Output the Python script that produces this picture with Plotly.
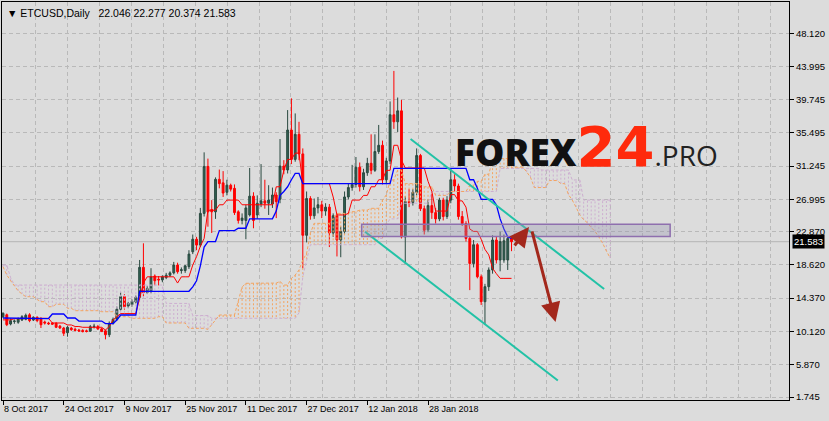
import pandas as pd
import plotly.graph_objects as go

# ---------------- data ----------------
start_date = "2017-10-08"
n_bars = 135
n_cloud = 161

open_ = [12.00, 12.25, 11.07, 11.40, 11.30, 11.58, 11.67, 12.25, 11.58, 11.93,
         11.75, 11.33, 11.20, 11.20, 11.16, 10.80, 10.56, 9.96, 10.55, 10.40,
         10.30, 10.25, 10.20, 10.15, 10.70, 10.75, 10.45, 10.20, 9.70, 11.16,
         11.67, 12.95, 14.56, 13.37, 13.54, 13.88, 14.48, 18.31, 15.10, 15.20,
         17.20, 16.80, 16.70, 17.00, 17.30, 17.60, 18.60, 17.90, 17.90, 18.40,
         20.30, 21.90, 21.15, 25.20, 31.20, 25.70, 25.40, 29.55, 29.10, 27.90,
         28.80, 28.40, 25.40, 24.30, 24.30, 25.00, 27.40, 25.00, 26.40, 26.80,
         26.50, 26.40, 27.55, 27.00, 31.25, 30.75, 35.85, 32.10, 35.30, 32.80,
         22.40, 27.10, 24.90, 25.90, 26.30, 25.50, 26.00, 22.70, 24.90, 21.80,
         22.90, 27.30, 28.50, 28.90, 31.10, 28.60, 30.40, 31.60, 30.70, 33.10,
         33.90, 29.50, 31.90, 37.80, 36.90, 38.30, 22.20, 26.70, 26.60, 27.90,
         32.60, 25.80, 23.10, 26.20, 25.30, 24.50, 26.90, 24.80, 26.90, 29.50,
         28.70, 24.80, 23.90, 22.00, 18.80, 21.20, 17.10, 13.92, 15.84, 17.97,
         21.80, 19.25, 19.25, 19.25, 22.046]
high = [12.55, 12.40, 11.80, 11.65, 11.90, 12.20, 12.40, 12.45, 12.05, 12.05,
        11.95, 11.50, 11.35, 11.30, 11.30, 10.95, 10.70, 10.80, 10.70, 10.60,
        10.45, 10.40, 10.35, 10.95, 11.10, 10.95, 10.60, 10.35, 11.40, 11.90,
        13.30, 15.10, 14.90, 13.90, 14.20, 14.70, 19.25, 21.38, 15.90, 18.20,
        17.40, 17.20, 17.30, 17.60, 17.80, 19.00, 18.90, 18.30, 18.60, 20.50,
        22.50, 22.20, 25.90, 33.00, 32.20, 26.90, 29.80, 30.80, 30.60, 29.50,
        29.00, 28.90, 25.60, 25.20, 26.30, 31.00, 27.90, 27.50, 31.50, 29.50,
        28.80, 28.50, 27.90, 34.70, 32.00, 38.40, 39.90, 37.97, 36.90, 33.50,
        28.00, 27.40, 27.10, 27.30, 26.80, 26.50, 26.40, 25.20, 25.20, 23.50,
        28.00, 29.00, 31.40, 32.40, 31.70, 30.90, 32.30, 35.30, 35.30, 36.50,
        34.50, 32.30, 39.50, 43.40, 40.00, 39.70, 27.40, 28.30, 28.30, 33.50,
        32.80, 26.20, 27.00, 27.70, 25.90, 27.20, 27.20, 27.40, 31.00, 30.20,
        29.00, 25.50, 24.20, 22.30, 21.80, 21.40, 17.40, 16.20, 18.30, 22.40,
        22.30, 22.86, 22.50, 22.30, 22.277]
low = [11.85, 10.80, 10.90, 11.10, 11.10, 11.45, 11.55, 11.30, 11.45, 11.30,
       10.56, 11.00, 10.95, 10.95, 10.55, 10.45, 9.54, 9.45, 10.20, 10.15,
       10.05, 10.00, 10.00, 10.05, 10.50, 10.35, 10.05, 9.11, 9.40, 11.00,
       11.50, 12.80, 12.90, 13.10, 13.30, 13.70, 14.20, 14.60, 14.90, 15.00,
       16.00, 16.00, 16.40, 16.80, 17.10, 17.40, 17.50, 17.50, 17.60, 18.10,
       20.00, 20.50, 20.90, 24.80, 23.50, 22.70, 24.50, 28.40, 27.30, 27.50,
       28.00, 25.00, 23.90, 23.80, 21.90, 24.80, 23.30, 24.50, 26.00, 25.80,
       25.00, 25.90, 24.60, 26.50, 30.20, 30.30, 31.50, 31.80, 32.00, 18.20,
       21.50, 24.40, 24.50, 25.20, 24.60, 24.90, 20.90, 22.20, 19.70, 19.60,
       22.60, 27.00, 28.10, 28.50, 28.00, 28.20, 30.00, 30.20, 30.50, 32.80,
       28.90, 29.00, 31.50, 36.00, 35.60, 22.00, 18.70, 26.00, 26.20, 27.50,
       25.50, 22.50, 22.80, 24.50, 23.90, 24.20, 24.30, 24.50, 26.50, 28.00,
       24.40, 23.60, 21.60, 15.40, 18.30, 16.90, 13.50, 10.94, 15.30, 17.50,
       18.80, 17.80, 18.90, 17.97, 20.374]
close = [12.44, 10.98, 11.50, 11.45, 11.75, 12.00, 12.18, 11.50, 11.93, 11.50,
         10.98, 11.20, 11.10, 11.05, 10.65, 10.56, 9.88, 10.65, 10.35, 10.25,
         10.18, 10.10, 10.12, 10.73, 10.78, 10.42, 10.10, 9.70, 11.16, 11.67,
         12.95, 14.56, 13.28, 13.70, 13.97, 14.48, 18.31, 15.10, 15.60, 17.10,
         16.60, 16.70, 17.10, 17.30, 17.60, 18.60, 17.75, 18.00, 18.50, 20.00,
         21.90, 21.15, 25.20, 31.20, 25.40, 25.40, 29.55, 29.00, 27.80, 28.80,
         28.30, 25.30, 24.30, 24.60, 25.90, 27.40, 24.30, 26.50, 26.80, 26.50,
         26.90, 27.55, 26.70, 31.25, 30.75, 35.85, 32.10, 35.30, 32.80, 22.40,
         27.10, 24.90, 25.90, 26.30, 25.50, 26.00, 22.70, 24.90, 21.80, 22.90,
         27.30, 28.50, 28.90, 31.10, 28.60, 30.40, 31.60, 30.70, 33.10, 33.90,
         29.50, 31.90, 37.80, 36.90, 38.30, 22.20, 26.70, 26.60, 27.90, 32.60,
         25.80, 23.05, 26.20, 25.30, 24.50, 26.90, 24.80, 26.90, 29.50, 28.70,
         24.80, 23.90, 22.00, 18.80, 21.20, 17.10, 13.92, 15.84, 17.97, 21.80,
         19.25, 21.60, 21.70, 22.00, 21.583]

tenkan = ([11.6] * 3 + [11.75] * 6 + [11.8] * 4 + [11.2] * 4 + [10.95] * 2 +
          [10.75] * 2 + [10.65] * 6 + [10.3, 10.75, 11.6, 12.0] + [12.4] * 5 +
          [14.35, 16.3] + [17.1] * 8 + [16.3] + [17.1] * 3 +
          [18.6, 19.67, 21.0, 22.0] + [25.6] * 3 + [26.3] * 2 + [26.9] * 4 +
          [26.3] * 9 + [28.6, 28.6, 30.7] + [32.1] * 2 + [32.9] * 2 +
          [29.0] * 8 + [27.3] + [25.0] * 3 + [25.2] + [26.9] * 3 + [27.5] * 2 +
          [28.6] * 2 + [29.5] * 2 + [30.7, 30.7] + [33.9] * 2 + [32.0] +
          [31.0] * 6 + [29.3, 28.0] + [25.5] * 4 + [27.6] * 2 + [26.8] * 2 +
          [26.0, 23.2] + [22.9] * 2 + [21.9, 20.6, 19.9, 18.2, 17.5] + [16.9] * 4)
kijun = ([11.84] * 8 + [11.77] * 5 + [12.35] * 4 + [11.84] * 3 + [11.45] * 7 +
         [11.13] * 3 + [11.58] + [12.22] * 5 + [15.25] * 14 +
         [15.82, 16.6, 18.5, 20.9] + [21.6] * 3 + [23.0] * 5 + [23.3] * 3 +
         [24.5] * 7 + [25.5, 27.5, 28.0, 28.6, 29.5] + [30.3] * 2 + [29.0] * 24 +
         [30.95] * 20 + [29.5] * 2 + [28.4] + [27.0] * 4 +
         [26.3, 24.5, 23.2, 22.2, 22.0])
span_a = ([18.39, 17.33, 16.6, 16.0, 15.3, 14.9] + [14.56] * 3 + [14.2] +
          [13.92] * 2 + [13.28] * 2 + [13.59] * 3 + [13.08] * 2 + [12.77] * 7 +
          [12.64] * 4 + [12.0] * 4 + [11.8] * 7 + [12.0] * 2 + [11.2] * 6 +
          [10.52] * 5 + [10.39, 10.94, 11.58] + [12.22] * 5 + [14.0, 15.8] +
          [16.27] * 8 + [16.3, 16.5] + [16.05] * 2 +
          [16.9, 17.33, 17.97, 19.25, 20.1, 22.66] + [23.93] * 5 + [24.57] +
          [25.2] * 4 + [25.42] * 2 + [25.63] * 3 + [25.85] * 3 + [26.91, 27.55] +
          [29.47] * 2 + [30.74] * 2 + [29.0] * 5 + [28.6] * 3 + [27.5] * 4 +
          [28.0] * 5 + [28.8] * 2 + [29.3] * 2 + [30.2] * 2 + [32.0] * 2 +
          [32.2] * 3 + [31.1] * 4 + [30.5, 29.8] + [28.5] * 4 + [29.4] * 3 +
          [29.0] * 2 + [27.6, 26.9, 26.0, 25.0, 24.4, 24.0, 23.4, 22.9, 22.2,
                        21.4, 20.4, 19.5])
span_b = ([18.6, 18.6, 17.0] + [16.05] * 40 + [13.7] * 7 + [12.15] * 5 +
          [11.8] * 23 + [12.5, 17.1, 19.2] + [21.2] * 18 + [22.0] * 2 +
          [23.75] + [24.5] * 3 + [26.5] * 8 + [28.0] * 18 + [30.95] * 11 +
          [30.74] * 8 + [29.47] * 3 + [26.9] * 8)

y_ticks = [48.120, 43.995, 39.745, 35.495, 31.245, 26.995, 22.870, 18.620,
           14.370, 10.120, 5.870, 1.745]
x_tick_bars = [0, 16, 32, 48, 64, 80, 96, 112]
x_tick_text = ["8 Oct 2017", "24 Oct 2017", "9 Nov 2017", "25 Nov 2017",
               "11 Dec 2017", "27 Dec 2017", "12 Jan 2018", "28 Jan 2018"]
header_text = "\u25BC ETCUSD,Daily\u00A0\u00A0 22.046 22.277 20.374 21.583"
last_price = 21.583

# drawn objects, in chart coordinates (bar index, price)
channel_upper = [(107.4, 34.70), (158.4, 15.54)]
channel_lower = [(95.4, 22.86), (146.2, 3.85)]
zone = {"bar0": 94.5, "bar1": 175.8, "p0": 22.25, "p1": 23.82}
arrow_up = [(134.5, 20.91), (138.6, 23.46)]
arrow_down = [(139.3, 23.08), (145.6, 11.33)]

# ---------------- figure ----------------
t0 = pd.Timestamp(start_date)
def d(i):
    return t0 + pd.Timedelta(days=i)

dates = [d(i) for i in range(n_cloud)]
bar_dates = dates[:n_bars]

fig = go.Figure()

# cloud hatch
hx_o, hy_o, hx_t, hy_t = [], [], [], []
for i in range(n_cloud):
    a, b = span_a[i], span_b[i]
    if a >= b:
        hx_o += [dates[i], dates[i], None]
        hy_o += [a, b, None]
    else:
        hx_t += [dates[i], dates[i], None]
        hy_t += [a, b, None]
fig.add_trace(go.Scatter(x=hx_t, y=hy_t, mode="lines",
                         line=dict(color="#cdaed0", width=1, dash="2px,2px"),
                         hoverinfo="skip", showlegend=False))
fig.add_trace(go.Scatter(x=hx_o, y=hy_o, mode="lines",
                         line=dict(color="#f4a460", width=1, dash="2px,2px"),
                         hoverinfo="skip", showlegend=False))
fig.add_trace(go.Scatter(x=dates, y=span_b, mode="lines",
                         line=dict(color="#cdaed0", width=1, dash="3px,2px"),
                         showlegend=False))
fig.add_trace(go.Scatter(x=dates, y=span_a, mode="lines",
                         line=dict(color="#f4a460", width=1, dash="3px,2px"),
                         showlegend=False))

# candles
fig.add_trace(go.Candlestick(
    x=bar_dates, open=open_, high=high, low=low, close=close,
    increasing=dict(line=dict(color="#2a4a40", width=1), fillcolor="#2f5f50"),
    decreasing=dict(line=dict(color="#ff0000", width=1), fillcolor="#ff0000"),
    whiskerwidth=0, showlegend=False))

# tenkan / kijun
fig.add_trace(go.Scatter(x=bar_dates, y=tenkan, mode="lines",
                         line=dict(color="#ff0000", width=1), showlegend=False))
fig.add_trace(go.Scatter(x=bar_dates, y=kijun, mode="lines",
                         line=dict(color="#0000ff", width=1.3), showlegend=False))

# current price line
fig.add_hline(y=last_price, line=dict(color="#b4b4b4", width=1), layer="below")

# support/resistance zone
fig.add_shape(type="rect", xref="x", yref="y",
              x0=d(zone["bar0"]), x1=d(zone["bar1"]), y0=zone["p0"], y1=zone["p1"],
              line=dict(color="#8e6fae", width=1.5),
              fillcolor="rgba(150,150,175,0.35)")

# channel
for seg in (channel_upper, channel_lower):
    fig.add_trace(go.Scatter(x=[d(seg[0][0]), d(seg[1][0])],
                             y=[seg[0][1], seg[1][1]], mode="lines",
                             line=dict(color="#22c2a6", width=2),
                             showlegend=False))

# arrows
for arr in (arrow_up, arrow_down):
    fig.add_annotation(x=d(arr[1][0]), y=arr[1][1], ax=d(arr[0][0]), ay=arr[0][1],
                       xref="x", yref="y", axref="x", ayref="y",
                       showarrow=True, arrowhead=2, arrowsize=1.3, arrowwidth=3,
                       arrowcolor="#a3281c", text="")

x_left = d(-0.2635)
x_right = d(-0.2635 + 787 / 3.795)

fig.update_layout(
    width=829, height=421,
    margin=dict(l=2, r=40, t=2, b=21, autoexpand=False),
    paper_bgcolor="#dcdcdc", plot_bgcolor="#dcdcdc",
    font=dict(family="Liberation Sans, Arial, sans-serif", size=10, color="black"),
    showlegend=False,
    xaxis=dict(type="date", range=[x_left, x_right], automargin=False,
               tickvals=[d(i) for i in x_tick_bars], ticktext=x_tick_text,
               tickfont=dict(size=9),
               ticks="outside", ticklen=4, tickcolor="black", tickangle=0,
               ticklabelposition="outside right",
               showgrid=False, zeroline=False,
               showline=True, linecolor="black", linewidth=1, mirror=True,
               rangeslider=dict(visible=False), fixedrange=True),
    xaxis2=dict(type="date", overlaying="x", range=[x_left, x_right],
                automargin=False,
                tick0=d(0), dtick=8.432 * 86400000, showticklabels=False,
                ticks="", showgrid=True, gridcolor="#b9b9b9", griddash="4px,3px",
                gridwidth=1, zeroline=False, showline=False, layer="below traces"),
    yaxis=dict(side="right", range=[1.362, 52.205], tickvals=y_ticks,
               automargin=False, tickfont=dict(size=9.5),
               ticktext=[f"{v:.3f}" for v in y_ticks],
               ticks="outside", ticklen=4, tickcolor="black",
               showgrid=True, gridcolor="#b9b9b9", griddash="4px,3px",
               zeroline=False, showline=True, linecolor="black", linewidth=1,
               mirror=True, fixedrange=True),
)
# dummy trace to activate xaxis2 grid
fig.add_trace(go.Scatter(x=[d(0)], y=[None], xaxis="x2", showlegend=False))

# header and price label
fig.add_annotation(xref="paper", yref="paper", x=0, y=1, xanchor="left", yanchor="top",
                   xshift=3, yshift=-3, text=header_text, showarrow=False,
                   font=dict(size=10.5, color="black"))
fig.add_annotation(xref="paper", yref="y", x=1, y=last_price, xanchor="left",
                   xshift=3, text=f"{last_price:.3f}", showarrow=False,
                   bgcolor="black", font=dict(size=9.5, color="white"), borderpad=1)

# logo
logo = ("<span style='font-family:Open Sans;font-weight:800;font-size:37px;color:#111111'>FOREX</span>"
        "<span style='font-family:DejaVu Sans;font-weight:bold;font-size:56px;color:#ff2a0c'>24</span>"
        "<span style='font-family:Open Sans;font-weight:400;font-size:28px;color:#222222'>.PRO</span>")
fig.add_annotation(xref="paper", yref="paper", x=(453 - 2) / 787, y=(400 - 146) / 398,
                   xanchor="left", yanchor="middle", text=logo, showarrow=False)

fig.write_html("out.html", config={"displayModeBar": False},
               post_script="document.body.style.margin='0';"
                           "document.body.style.overflow='hidden';")
